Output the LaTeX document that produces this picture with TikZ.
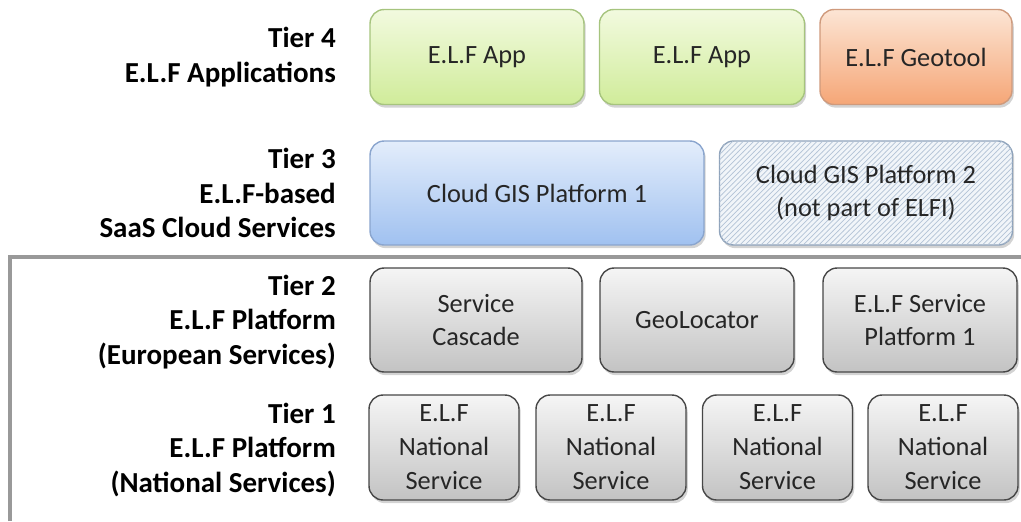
\documentclass[tikz,border=0pt]{standalone}
\usepackage{fontspec}
\setmainfont{Carlito}
\usetikzlibrary{shadows,patterns}

\definecolor{appgreentop}{HTML}{F2FADF}
\definecolor{appgreenbot}{HTML}{D0EC9A}
\definecolor{appgreenline}{HTML}{A6C47E}
\definecolor{geotop}{HTML}{FCE5D4}
\definecolor{geobot}{HTML}{F5A677}
\definecolor{geoline}{HTML}{CF9A7C}
\definecolor{cloudtop}{HTML}{E3EDFB}
\definecolor{cloudbot}{HTML}{A0C1F0}
\definecolor{cloudline}{HTML}{8AA5CE}
\definecolor{hatchfill}{HTML}{F1F5F9}
\definecolor{hatchline}{HTML}{B3C3D6}
\definecolor{hatchborder}{HTML}{8FA3BB}
\definecolor{svctop}{HTML}{F5F5F5}
\definecolor{svcbot}{HTML}{C3C3C3}
\definecolor{svcline}{HTML}{474747}
\definecolor{inktext}{HTML}{262626}

\tikzset{
    tierlabel/.style={anchor=east, align=right, text=black,
        font=\fontsize{16.5}{19.5}\selectfont\bfseries},
    tierbox/.style={rounded corners=8pt, line width=0.8pt, align=center,
        inner sep=0pt, text=inktext, font=\fontsize{15}{19.3}\selectfont,
        drop shadow={shadow xshift=1pt, shadow yshift=-1.8pt, opacity=0.35}},
    appbox/.style={tierbox, draw=appgreenline, top color=appgreentop, bottom color=appgreenbot},
    geobox/.style={tierbox, draw=geoline, top color=geotop, bottom color=geobot},
    cloudbox/.style={tierbox, draw=cloudline, top color=cloudtop, bottom color=cloudbot},
    hatchbox/.style={tierbox, draw=hatchborder, fill=hatchfill,
        postaction={pattern=north east lines, pattern color=hatchline}},
    svcbox/.style={tierbox, draw=svcline, top color=svctop, bottom color=svcbot}
}

\begin{document}
\begin{tikzpicture}[x=0.02cm, y=-0.02cm]
    \useasboundingbox (0,0) rectangle (1021,521);

    % frame round the two platform tiers
    \draw[gray!80, line width=1.8pt] (10,521) -- (10,257) -- (1021,257);

    % tier labels
    \node[tierlabel] (t4) at (342,57) {Tier 4\\E.L.F Applications};
    \node[tierlabel] (t3) at (342,193) {Tier 3\\E.L.F-based\\SaaS Cloud Services};
    \node[tierlabel] (t2) at (342,322) {Tier 2\\E.L.F Platform\\(European Services)};
    \node[tierlabel] (t1) at (342,450) {Tier 1\\E.L.F Platform\\(National Services)};

    % Tier 4
    \node[appbox, minimum width=4.28cm, minimum height=1.9cm] (app1) at (477,57) {E.L.F App};
    \node[appbox, minimum width=4.1cm, minimum height=1.9cm] (app2) at (702,57) {E.L.F App};
    \node[geobox, minimum width=3.84cm, minimum height=1.9cm] (geotool) at (916,57) {E.L.F Geotool};

    % Tier 3
    \node[cloudbox, minimum width=6.68cm, minimum height=2.08cm] (cloud1) at (537,193) {Cloud GIS Platform 1};
    \node[hatchbox, minimum width=5.86cm, minimum height=2.08cm] (cloud2) at (866,193) {Cloud GIS Platform 2\\(not part of ELFI)};

    % Tier 2
    \node[svcbox, minimum width=4.24cm, minimum height=2.08cm] (cascade) at (476,320) {Service\\Cascade};
    \node[svcbox, minimum width=3.88cm, minimum height=2.08cm] (geoloc) at (697,320) {GeoLocator};
    \node[svcbox, minimum width=3.88cm, minimum height=2.08cm] (elfsvc) at (920,320) {E.L.F Service\\Platform 1};

    % Tier 1: one box per country
    \foreach \x / \n in {444/1, 611/2, 777.5/3, 943/4}
    {
        \node[svcbox, minimum width=3cm, minimum height=2.1cm] (nat\n) at (\x,447.5) {E.L.F\\National\\Service};
    }

\end{tikzpicture}
\end{document}
